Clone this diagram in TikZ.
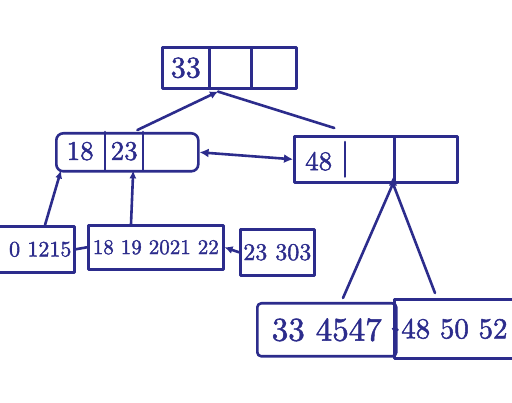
\documentclass[tikz,border=0pt]{standalone}
\usepackage{fontspec}
\newfontfamily\hand{lmroman10-regular}[Extension=.otf, FakeBold=1.6]
\usetikzlibrary{arrows.meta,calc}
\definecolor{ink}{RGB}{44,44,140}
\tikzset{
  pen/.style={draw=ink, line width=2.6pt, line join=round, line cap=round},
  box/.style={pen, rectangle, inner sep=0pt, anchor=north west, text=ink},
  slot/.style={rectangle, inner sep=0pt, anchor=north west, text=ink},
  keys/.style={inner sep=0pt, text=ink},
  link/.style={pen},
  tip/.style={-{Latex[length=8pt,width=8pt]}},
  keyfont/.style={font=\hand\fontsize{#1}{#1}\selectfont},
}
\begin{document}
\begin{tikzpicture}[x=1pt,y=-1pt]
  \useasboundingbox (0,0) rectangle (512,403);
  \fill[white] (0,0) rectangle (512,403);
  \clip (0,0) rectangle (512,403);

  % root node: three key slots
  \node[box, keyfont=30, minimum width=47pt, minimum height=41pt] (r1) at (161,46) {33};
  \node[box, minimum width=42pt, minimum height=41pt] (r2) at (208,46) {};
  \node[box, minimum width=45pt, minimum height=41pt] (r3) at (250,46) {};
  \coordinate (rj) at ($(r2.south west)+(10,2)$);

  % left internal node: outer box and slots
  \node[box, minimum width=142pt, minimum height=38pt, rounded corners=7pt] (L) at (55,132) {};
  \node[slot, keyfont=27, minimum width=50pt, minimum height=38pt] (l1) at (55,132) {18};
  \node[slot, keyfont=27, minimum width=38pt, minimum height=38pt] (l2) at (105,132) {23};
  \node[slot, minimum width=54pt, minimum height=38pt] (l3) at (143,132) {};
  \draw[pen] (l2.north west) -- (l2.south west);
  \draw[pen] (l3.north west) -- (l3.south west);

  % right internal node
  \node[box, minimum width=100pt, minimum height=46pt] (m1) at (293,135) {};
  \node[keys, keyfont=27, anchor=west] (m1k) at ($(m1.west)+(12,2)$) {48};
  \draw[pen] ($(m1.north west)+(52,7)$) -- ($(m1.south west)+(52,-7)$);
  \node[box, minimum width=63pt, minimum height=46pt] (m2) at (393,135) {};

  % leaves
  \node[box, minimum width=83pt, minimum height=46pt] (lA) at (-10,225) {};
  \node[keys, keyfont=22, anchor=east] (lAk) at ($(lA.east)+(-4,0)$) {0 1215};
  \node[box, keyfont=21, minimum width=135pt, minimum height=44pt] (lB) at (87,224) {18 19 2021 22};
  \node[box, keyfont=24, minimum width=74pt, minimum height=46pt] (lC) at (239,228) {23 303};
  \node[box, keyfont=33, minimum width=139pt, minimum height=53pt, rounded corners=4pt] (lD) at (256,302) {33 4547};
  \node[box, minimum width=130pt, minimum height=59pt] (lE) at (393,298) {};
  \node[keys, keyfont=29, anchor=west] (lEk) at ($(lE.west)+(8,0)$) {48 50 52};

  % pointers from the internal nodes up to the root
  \draw[link, tip] ($(l2.north east)+(-6,-2)$) -- (rj);
  \draw[link] ($(m1.north)+(-10,-7)$) -- (rj);

  % sibling link between internal nodes
  \draw[link, {Latex[length=9pt,width=9pt]}-{Latex[length=9pt,width=9pt]}] (L.east) -- (m1.west);

  % child pointers of the left internal node
  \draw[link, {Latex[length=8pt,width=7pt]}-] ($(l1.south west)+(6,0)$) -- ($(lA.north west)+(55,0)$);
  \draw[link, {Latex[length=8pt,width=7pt]}-] ($(l2.south)+(9,0)$) -- ($(lB.north west)+(44,0)$);

  % child pointers of the right internal node
  \draw[link] (m2.south west) -- ($(lD.north west)+(87,-4)$);
  \draw[link] (m2.south west) -- ($(lE.north west)+(42,-5)$);
  \fill[ink] ($(m2.south west)+(-4,2)$) -- ($(m2.south west)+(4,2)$) -- ($(m2.south west)+(0,-6)$) -- cycle;

  % leaf chain
  \draw[link] (lA.east) -- (lB.west);
  \draw[link, tip] (lC.west) -- (lB.east);
  \draw[link] (lD.east) -- (lE.west);
\end{tikzpicture}
\end{document}
